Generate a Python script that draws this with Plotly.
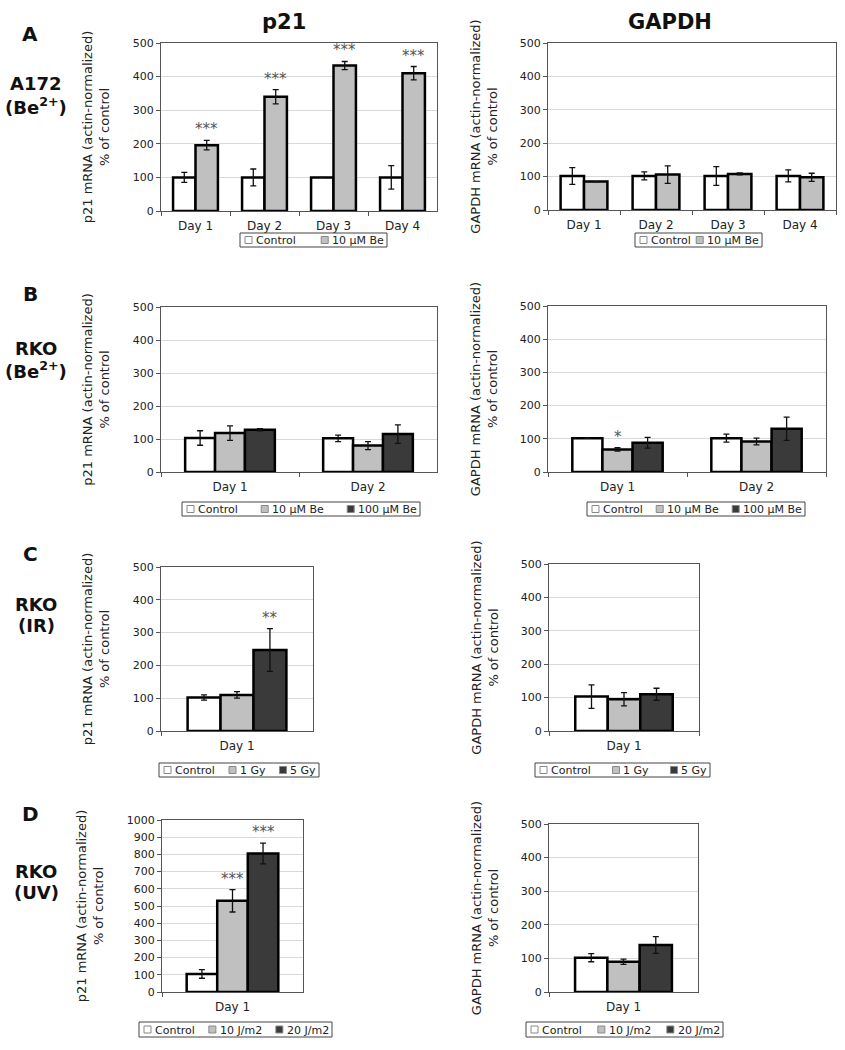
import plotly.graph_objects as go

W, H = 845, 1050

# ---------------- data ----------------
days4 = ["Day 1", "Day 2", "Day 3", "Day 4"]
days2 = ["Day 1", "Day 2"]
days1 = ["Day 1"]

# Panel A (A172, Be2+)
a_p21_ctrl = [100, 100, 100, 100]
a_p21_ctrl_err = [15, 25, 0, 35]
a_p21_be10 = [196, 340, 433, 410]
a_p21_be10_err = [14, 21, 12, 20]
a_p21_stars = ["***", "***", "***", "***"]

a_gapdh_ctrl = [102, 102, 102, 102]
a_gapdh_ctrl_err = [25, 12, 28, 18]
a_gapdh_be10 = [85, 106, 108, 98]
a_gapdh_be10_err = [0, 26, 3, 12]

# Panel B (RKO, Be2+)
b_p21_ctrl = [103, 102]
b_p21_ctrl_err = [22, 10]
b_p21_be10 = [118, 80]
b_p21_be10_err = [22, 12]
b_p21_be100 = [128, 115]
b_p21_be100_err = [3, 28]

b_gapdh_ctrl = [102, 102]
b_gapdh_ctrl_err = [1, 12]
b_gapdh_be10 = [68, 92]
b_gapdh_be10_err = [5, 10]
b_gapdh_be100 = [88, 130]
b_gapdh_be100_err = [16, 35]
b_gapdh_be10_stars = ["*", ""]

# Panel C (RKO, IR)
c_p21_ctrl = [102]
c_p21_ctrl_err = [8]
c_p21_1gy = [110]
c_p21_1gy_err = [10]
c_p21_5gy = [247]
c_p21_5gy_err = [65]
c_p21_5gy_stars = ["**"]

c_gapdh_ctrl = [103]
c_gapdh_ctrl_err = [35]
c_gapdh_1gy = [95]
c_gapdh_1gy_err = [20]
c_gapdh_5gy = [110]
c_gapdh_5gy_err = [18]

# Panel D (RKO, UV)
d_p21_ctrl = [105]
d_p21_ctrl_err = [25]
d_p21_10j = [530]
d_p21_10j_err = [65]
d_p21_20j = [805]
d_p21_20j_err = [60]
d_p21_10j_stars = ["***"]
d_p21_20j_stars = ["***"]

d_gapdh_ctrl = [102]
d_gapdh_ctrl_err = [12]
d_gapdh_10j = [90]
d_gapdh_10j_err = [8]
d_gapdh_20j = [140]
d_gapdh_20j_err = [25]

# ---------------- style ----------------
FONT = "DejaVu Sans, Arial, sans-serif"
C_WHITE = "#ffffff"
C_LIGHT = "#c0c0c0"
C_DARK = "#3a3a3a"
BARGAP = 0.35
LEG_FS = 11

# approximate DejaVu Sans advance widths (em) for legend layout
CHAR_W = {" ": 0.318, "C": 0.698, "o": 0.612, "n": 0.634, "t": 0.392,
          "r": 0.411, "l": 0.278, "µ": 0.636, "M": 0.863, "B": 0.686,
          "e": 0.615, "G": 0.775, "y": 0.592, "J": 0.295, "/": 0.337,
          "m": 0.974}

def text_w(s, fs):
    return sum(CHAR_W.get(ch, 0.636) for ch in s) * fs

fig = go.Figure()

def px_x(v):
    return v / W

def px_y(v):
    return 1 - v / H

def draw_legend(box, items):
    """Boxed horizontal legend, box=(x0,x1,y0,y1) in pixels."""
    x0, x1, y0, y1 = box
    fig.add_shape(type="rect", xref="paper", yref="paper",
                  x0=px_x(x0), x1=px_x(x1), y0=px_y(y1), y1=px_y(y0),
                  line=dict(color="#444", width=1), fillcolor="#ffffff",
                  layer="above")
    sq, gap_t, pad = 7, 2, 5
    widths = [sq + gap_t + text_w(name, LEG_FS) for name, _ in items]
    free = (x1 - x0) - 2 * pad - sum(widths)
    gap = free / max(len(items) - 1, 1)
    cx = x0 + pad
    cy = (y0 + y1) / 2
    for (name, col), w in zip(items, widths):
        fig.add_shape(type="rect", xref="paper", yref="paper",
                      x0=px_x(cx), x1=px_x(cx + sq),
                      y0=px_y(cy + sq / 2), y1=px_y(cy - sq / 2),
                      line=dict(color="#888", width=1), fillcolor=col,
                      layer="above")
        fig.add_annotation(x=px_x(cx + sq + gap_t), y=px_y(cy + 0.5),
                           xref="paper", yref="paper", text=name,
                           showarrow=False, xanchor="left", yanchor="middle",
                           font=dict(family=FONT, size=LEG_FS, color="#222"))
        cx += w + gap

def add_panel(n, box, cats, series, ytitle, yrange, dtick, legbox,
              stars=None, standoff=20):
    """box=(x0,x1,y0,y1) in pixels; series=list of (name,vals,errs,color)."""
    xa = "x" if n == 1 else f"x{n}"
    ya = "y" if n == 1 else f"y{n}"
    for name, vals, errs, col in series:
        fig.add_trace(go.Bar(
            x=cats, y=vals, name=name, xaxis=xa, yaxis=ya,
            marker=dict(color=col, line=dict(color="#000000", width=2.5)),
            error_y=dict(type="data", array=errs, visible=True,
                         color="#111111", thickness=1.3, width=3),
            showlegend=False,
        ))
    x0, x1, y0, y1 = box
    fig.layout[f"xaxis{'' if n == 1 else n}"] = dict(
        domain=[px_x(x0), px_x(x1)], anchor=ya, type="category",
        tickson="boundaries", ticks="outside", ticklen=4, tickcolor="#555",
        showline=True, linecolor="#555", linewidth=1, mirror=True,
        tickfont=dict(family=FONT, size=12, color="#222"),
        ticklabelstandoff=4,
        showgrid=False, fixedrange=True, automargin=False,
    )
    fig.layout[f"yaxis{'' if n == 1 else n}"] = dict(
        domain=[px_y(y1), px_y(y0)], anchor=xa, range=yrange, dtick=dtick,
        ticks="outside", ticklen=4, tickcolor="#555",
        showline=True, linecolor="#555", linewidth=1, mirror=True,
        showgrid=True, gridcolor="#d9d9d9", gridwidth=1, zeroline=False,
        tickfont=dict(family=FONT, size=11, color="#222"),
        title=dict(text=ytitle, font=dict(family=FONT, size=13, color="#222"),
                   standoff=standoff),
        fixedrange=True, automargin=False,
    )
    draw_legend(legbox, [(s[0], s[3]) for s in series])
    if stars:
        nser = len(series)
        bw = (1 - BARGAP) / nser
        for si, labels in stars:
            _, vals, errs, _ = series[si]
            off = (si - (nser - 1) / 2) * bw
            for ci, lab in enumerate(labels):
                if not lab:
                    continue
                fig.add_annotation(
                    x=ci + off, y=vals[ci] + errs[ci], xref=xa, yref=ya,
                    text=lab, showarrow=False, xanchor="center",
                    yanchor="bottom", yshift=0,
                    font=dict(family=FONT, size=15, color="#555"),
                )

P21_T = "p21 mRNA (actin-normalized)<br>% of control"
GAP_T = "GAPDH mRNA (actin-normalized)<br>% of control"

add_panel(1, (161, 437, 43, 211), days4,
          [("Control", a_p21_ctrl, a_p21_ctrl_err, C_WHITE),
           ("10 µM Be", a_p21_be10, a_p21_be10_err, C_LIGHT)],
          P21_T, [0, 500], 100, (240, 387, 233, 247),
          stars=[(1, a_p21_stars)])
add_panel(2, (548, 836, 43, 210), days4,
          [("Control", a_gapdh_ctrl, a_gapdh_ctrl_err, C_WHITE),
           ("10 µM Be", a_gapdh_be10, a_gapdh_be10_err, C_LIGHT)],
          GAP_T, [0, 500], 100, (635, 762, 233, 247), standoff=19)
add_panel(3, (161, 437, 307, 472), days2,
          [("Control", b_p21_ctrl, b_p21_ctrl_err, C_WHITE),
           ("10 µM Be", b_p21_be10, b_p21_be10_err, C_LIGHT),
           ("100 µM Be", b_p21_be100, b_p21_be100_err, C_DARK)],
          P21_T, [0, 500], 100, (182, 420, 502, 516))
add_panel(4, (548, 826, 306, 472), days2,
          [("Control", b_gapdh_ctrl, b_gapdh_ctrl_err, C_WHITE),
           ("10 µM Be", b_gapdh_be10, b_gapdh_be10_err, C_LIGHT),
           ("100 µM Be", b_gapdh_be100, b_gapdh_be100_err, C_DARK)],
          GAP_T, [0, 500], 100, (587, 805, 502, 516),
          stars=[(1, b_gapdh_be10_stars)], standoff=19)
add_panel(5, (161, 313, 567, 731), days1,
          [("Control", c_p21_ctrl, c_p21_ctrl_err, C_WHITE),
           ("1 Gy", c_p21_1gy, c_p21_1gy_err, C_LIGHT),
           ("5 Gy", c_p21_5gy, c_p21_5gy_err, C_DARK)],
          P21_T, [0, 500], 100, (159, 319, 763, 777),
          stars=[(2, c_p21_5gy_stars)])
add_panel(6, (549, 699, 564, 731), days1,
          [("Control", c_gapdh_ctrl, c_gapdh_ctrl_err, C_WHITE),
           ("1 Gy", c_gapdh_1gy, c_gapdh_1gy_err, C_LIGHT),
           ("5 Gy", c_gapdh_5gy, c_gapdh_5gy_err, C_DARK)],
          GAP_T, [0, 500], 100, (535, 710, 763, 777), standoff=19)
add_panel(7, (162, 303, 820, 992), days1,
          [("Control", d_p21_ctrl, d_p21_ctrl_err, C_WHITE),
           ("10 J/m2", d_p21_10j, d_p21_10j_err, C_LIGHT),
           ("20 J/m2", d_p21_20j, d_p21_20j_err, C_DARK)],
          P21_T, [0, 1000], 100, (139, 332, 1022, 1037),
          stars=[(1, d_p21_10j_stars), (2, d_p21_20j_stars)])
add_panel(8, (549, 698, 824, 992), days1,
          [("Control", d_gapdh_ctrl, d_gapdh_ctrl_err, C_WHITE),
           ("10 J/m2", d_gapdh_10j, d_gapdh_10j_err, C_LIGHT),
           ("20 J/m2", d_gapdh_20j, d_gapdh_20j_err, C_DARK)],
          GAP_T, [0, 500], 100, (526, 723, 1022, 1037), standoff=19)

# column titles
for txt, cx in [("p21", 284), ("GAPDH", 670)]:
    fig.add_annotation(x=px_x(cx), y=px_y(22), xref="paper", yref="paper",
                       text=f"<b>{txt}</b>", showarrow=False,
                       xanchor="center", yanchor="middle",
                       font=dict(family=FONT, size=21, color="#111"))

# panel letters and row labels
row_labels = [
    ("A", 34, [("A172", 84), ("(Be<sup>2+</sup>)", 106)]),
    ("B", 294, [("RKO", 348), ("(Be<sup>2+</sup>)", 370)]),
    ("C", 554, [("RKO", 604), ("(IR)", 625)]),
    ("D", 814, [("RKO", 871), ("(UV)", 892)]),
]
for letter, ly, lines in row_labels:
    fig.add_annotation(x=px_x(30), y=px_y(ly), xref="paper", yref="paper",
                       text=f"<b>{letter}</b>", showarrow=False,
                       xanchor="center", yanchor="middle",
                       font=dict(family=FONT, size=20, color="#111"))
    for t, yy in lines:
        fig.add_annotation(x=px_x(36), y=px_y(yy), xref="paper", yref="paper",
                           text=f"<b>{t}</b>", showarrow=False,
                           xanchor="center", yanchor="middle",
                           font=dict(family=FONT, size=18, color="#111"))

fig.update_layout(
    template="none",
    width=W, height=H, margin=dict(l=0, r=0, t=0, b=0, autoexpand=False),
    paper_bgcolor="#ffffff", plot_bgcolor="#ffffff",
    barmode="group", bargap=BARGAP, bargroupgap=0,
    font=dict(family=FONT, color="#222"),
    showlegend=False,
)

fig.write_html("out.html",
               config={"displayModeBar": False, "staticPlot": True},
               post_script="document.body.style.margin='0';"
                           "document.body.style.padding='0';")
